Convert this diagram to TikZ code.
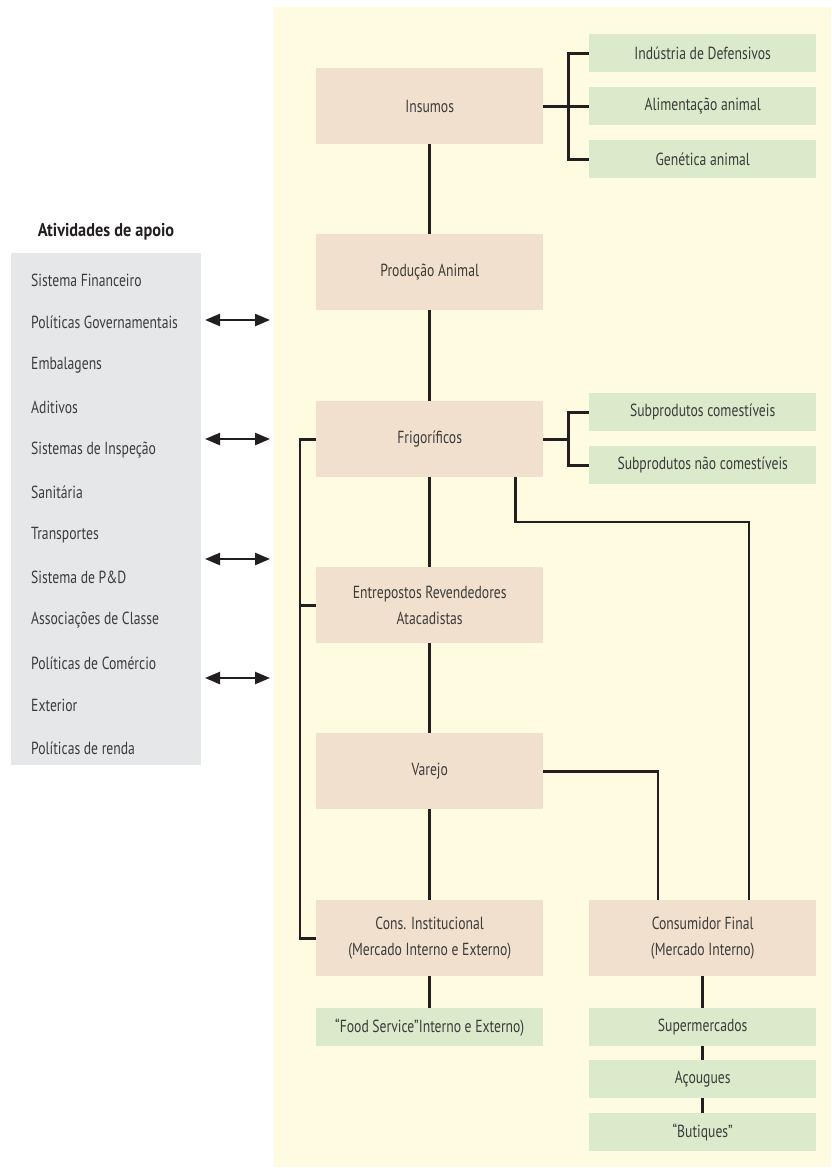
\documentclass[tikz,border=0pt]{standalone}
\usepackage{fontspec}
\setmainfont{PT Sans}[FakeStretch=0.78]
\newfontfamily\titlefont{PT Sans}[FakeStretch=0.88]
\usetikzlibrary{arrows.meta,calc}
\definecolor{bgy}{HTML}{FEFBE0}
\definecolor{beige}{HTML}{F1E0CD}
\definecolor{greenb}{HTML}{DAEACB}
\definecolor{grayp}{HTML}{E6E7E9}
\definecolor{linec}{HTML}{231F20}
\definecolor{txt}{HTML}{3C3C3B}
\begin{document}
\begin{tikzpicture}[x=1pt,y=-1pt,
  every node/.style={text=txt,font=\fontsize{17.5}{26}\selectfont},
  mainbox/.style={fill=beige,minimum width=227pt,minimum height=76pt,inner sep=0pt,align=center,anchor=north west},
  subbox/.style={fill=greenb,minimum width=227pt,minimum height=38pt,inner sep=0pt,align=center,anchor=north west},
  item/.style={anchor=west,inner sep=0pt},
  conn/.style={draw=linec,line width=2.7pt},
  dbl/.style={draw=linec,line width=2.4pt,{Triangle[length=15pt,width=12pt]}-{Triangle[length=15pt,width=12pt]}}
]
\useasboundingbox (0,0) rectangle (831,1173);
\fill[white] (0,0) rectangle (831,1173);
\fill[bgy] (274,7) rectangle (831,1167);
\fill[grayp] (11,253) rectangle (201,765);

\node[font=\fontsize{18.5}{20}\selectfont\titlefont\bfseries,text=linec] (title) at (106,232) {Atividades de apoio};
\foreach \t [count=\i from 0] in {Sistema Financeiro,Políticas Governamentais,Embalagens,Aditivos,Sistemas de Inspeção,Sanitária,Transportes,Sistema de P\&D,Associações de Classe,Políticas de Comércio,Exterior,Políticas de renda}{
  \node[item] (it\i) at (31,280+42.55*\i) {\t};
}

\foreach \y [count=\i] in {320,439,559,678}{
  \coordinate (al\i) at (205,\y);
  \coordinate (ar\i) at (270,\y);
  \draw[dbl] (al\i) -- (ar\i);
}

\node[mainbox] (ins) at (316,68) {Insumos};
\node[mainbox] (prod) at (316,234) {Produção Animal};
\node[mainbox] (frig) at (316,401) {Frigoríficos};
\node[mainbox] (ent) at (316,567) {Entrepostos Revendedores\\Atacadistas};
\node[mainbox] (var) at (316,733) {Varejo};
\node[mainbox] (cons) at (316,900) {Cons. Institucional\\(Mercado Interno e Externo)};
\node[mainbox] (cf) at (589,900) {Consumidor Final\\(Mercado Interno)};

\node[subbox] (ind) at (589,34) {Indústria de Defensivos};
\node[subbox] (ali) at (589,87) {Alimentação animal};
\node[subbox] (gen) at (589,140) {Genética animal};
\node[subbox] (sc) at (589,393) {Subprodutos comestíveis};
\node[subbox] (snc) at (589,446) {Subprodutos não comestíveis};
\node[subbox] (food) at (316,1008) {“Food Service”Interno e Externo)};
\node[subbox] (sup) at (589,1008) {Supermercados};
\node[subbox] (aco) at (589,1060) {Açougues};
\node[subbox] (but) at (589,1113) {“Butiques”};

% Insumos bracket
\draw[conn] (ins.east) -- ++(25,0) |- (ind.west);
\draw[conn] (ins.east) -- ++(25,0) |- (gen.west);
\draw[conn] (ins.east) -- (ali.west);
% main vertical chain
\draw[conn] (ins.south) -- (prod.north);
\draw[conn] (prod.south) -- (frig.north);
\draw[conn] (frig.south) -- (ent.north);
\draw[conn] (ent.south) -- (var.north);
\draw[conn] (var.south) -- (cons.north);
\draw[conn] (cons.south) -- (food.north);
% Frigorificos bracket
\draw[conn] (frig.east) -- ++(25,0) |- (sc.west);
\draw[conn] (frig.east) -- ++(25,0) |- (snc.west);
% left bus
\draw[conn] (frig.west) -- ++(-16,0) |- (cons.west);
\draw[conn] (ent.west) -- ++(-16,0);
% Frigorificos to Consumidor Final
\coordinate (fr1) at (749,522);
\draw[conn] ([xshift=-28pt]frig.south east) |- (fr1) -- (fr1 |- cf.north);
% Varejo to Consumidor Final
\draw[conn] (var.east) -| ([xshift=69pt]cf.north west);
% consumer chain
\draw[conn] (cf.south) -- (sup.north);
\draw[conn] (sup.south) -- (aco.north);
\draw[conn] (aco.south) -- (but.north);
\end{tikzpicture}
\end{document}
